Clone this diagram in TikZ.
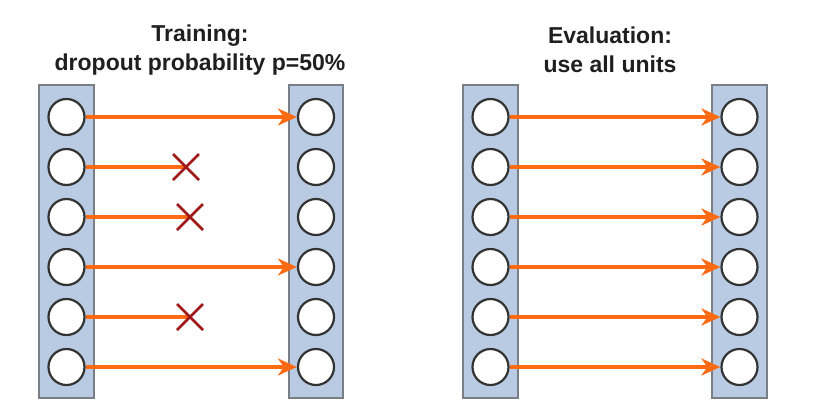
\documentclass[tikz,border=0pt]{standalone}
\usepackage{fontspec}
\setmainfont{Liberation Sans}
\usetikzlibrary{arrows.meta}
\definecolor{layerfill}{HTML}{B8CBE2}
\definecolor{layerdraw}{HTML}{7A7F86}
\definecolor{unitdraw}{HTML}{333333}
\definecolor{conn}{HTML}{FF6A13}
\definecolor{dropred}{HTML}{A01818}
\tikzset{
  layer/.style={draw=layerdraw, fill=layerfill, line width=1.5pt},
  unit/.style={circle, draw=unitdraw, fill=white, line width=2.2pt, minimum size=36pt, inner sep=0pt},
  link/.style={draw=conn, line width=3.2pt},
  linkarrow/.style={link, -{Stealth[length=19pt, width=17pt, inset=6pt]}},
  dropx/.style={draw=dropred, line width=2.6pt},
  title/.style={font=\bfseries\fontsize{23}{29}\selectfont, align=center, text=black!88}
}
\begin{document}
\begin{tikzpicture}[x=1pt,y=-1pt]
\useasboundingbox (0,0) rectangle (814,416);
% titles
\node[title] (t1) at (200,50) {Training:\\dropout probability p=50\%};
\node[title] (t2) at (610,50) {Evaluation:\\use all units};
% layers
\draw[layer] (39,85) rectangle (94,398);
\draw[layer] (289,85) rectangle (343,398);
\draw[layer] (463,85) rectangle (518,398);
\draw[layer] (712,85) rectangle (767,398);
% units
\foreach \i/\y in {1/117,2/167,3/217,4/267,5/317,6/367}{
  \node[unit] (a\i) at (66.5,\y) {};
  \node[unit] (b\i) at (316,\y) {};
  \node[unit] (c\i) at (490.5,\y) {};
  \node[unit] (d\i) at (739.5,\y) {};
}
% training connections
\draw[linkarrow] (a1) -- (b1);
\draw[linkarrow] (a4) -- (b4);
\draw[linkarrow] (a6) -- (b6);
\coordinate (x2) at (186,167);
\coordinate (x3) at (190,217);
\coordinate (x5) at (190,317);
\draw[link] (a2.east) -- (x2);
\draw[link] (a3.east) -- (x3);
\draw[link] (a5.east) -- (x5);
\foreach \k in {x2,x3,x5}{
  \draw[dropx] ([shift={(-13,-13)}]\k) -- ([shift={(13,13)}]\k);
  \draw[dropx] ([shift={(-13,13)}]\k) -- ([shift={(13,-13)}]\k);
}
% evaluation connections
\foreach \i in {1,...,6}{
  \draw[linkarrow] (c\i) -- (d\i);
}
\end{tikzpicture}
\end{document}
